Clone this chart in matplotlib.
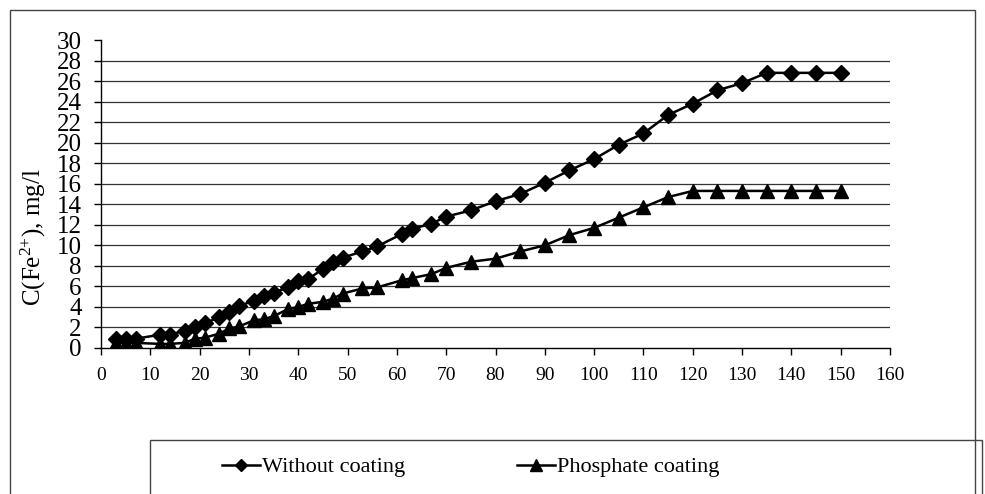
import numpy as np
import matplotlib
matplotlib.use("Agg")
import matplotlib.pyplot as plt
from matplotlib.patches import Rectangle
from matplotlib.lines import Line2D

plt.rcParams['font.family'] = ['Liberation Serif', 'DejaVu Serif']
plt.rcParams['mathtext.default'] = 'regular'

# time points and Fe2+ concentration (mg/l)
time = [3, 5, 7, 12, 14, 17, 19, 21, 24, 26, 28, 31, 33, 35, 38, 40, 42, 45, 47, 49,
        53, 56, 61, 63, 67, 70, 75, 80, 85, 90, 95, 100, 105, 110, 115, 120, 125, 130,
        135, 140, 145, 150]
without_coating = [0.9, 0.9, 0.9, 1.3, 1.3, 1.7, 2.0, 2.4, 3.0, 3.5, 4.1, 4.6, 5.1, 5.4,
                   5.9, 6.5, 6.7, 7.7, 8.4, 8.8, 9.4, 9.9, 11.1, 11.6, 12.1, 12.8, 13.4,
                   14.3, 15.0, 16.1, 17.3, 18.4, 19.8, 20.9, 22.7, 23.8, 25.1, 25.8, 26.8,
                   26.8, 26.8, 26.8]
phosphate_coating = [0.5, 0.5, 0.5, 0.4, 0.4, 0.5, 0.9, 1.0, 1.4, 1.9, 2.1, 2.7, 2.8, 3.1,
                     3.8, 4.0, 4.3, 4.5, 4.8, 5.3, 5.8, 5.9, 6.6, 6.8, 7.2, 7.8, 8.4, 8.7,
                     9.4, 10.0, 11.0, 11.7, 12.7, 13.7, 14.7, 15.3, 15.3, 15.3, 15.3, 15.3,
                     15.3, 15.3]
labels = ['Without coating', 'Phosphate coating']

W, H = 985, 494
fig = plt.figure(figsize=(W / 100, H / 100), dpi=100)
ax = fig.add_axes([101 / W, 1 - 348 / H, (890 - 101) / W, (348 - 40) / H])

ax.plot(time, without_coating, color='black', lw=1.8, marker='D', ms=8.5, zorder=3)
ax.plot(time, phosphate_coating, color='black', lw=1.8, marker='^', ms=10.5, zorder=3)

ax.set_xlim(0, 160)
ax.set_ylim(0, 30)
ax.set_xticks(np.arange(0, 161, 10))
ax.set_yticks(np.arange(0, 31, 2))
for v in range(2, 30, 2):
    ax.axhline(v, color='#333333', lw=0.9, zorder=1)

for s in ['top', 'right']:
    ax.spines[s].set_visible(False)
ax.spines['left'].set_linewidth(1.0)
ax.spines['bottom'].set_linewidth(1.0)
ax.tick_params(axis='y', direction='out', length=5, width=1, labelsize=18, pad=9)
ax.tick_params(axis='x', direction='out', length=5, width=1, labelsize=14, pad=9)

fig.text(33 / W, 1 - 237 / H, r'C(Fe$^{2{+}}$), mg/l', rotation=90, fontsize=18,
         ha='center', va='center')

# outer chart frame and legend box
fig.patches.append(Rectangle((10 / W, -0.1), (975 - 10) / W, 1 - 10 / H + 0.1,
                             transform=fig.transFigure, fill=False, ec='#444444', lw=1))
fig.patches.append(Rectangle((150 / W, -0.1), (982 - 150) / W, 1 - 440 / H + 0.1,
                             transform=fig.transFigure, fill=False, ec='#444444', lw=1))

handles = [Line2D([], [], color='black', lw=1.8, marker='D', ms=6),
           Line2D([], [], color='black', lw=1.8, marker='^', ms=8)]
for h, lab, x0 in zip(handles, labels, [222, 517]):
    fig.legend([h], [lab], loc='center left', bbox_to_anchor=(x0 / W, 1 - 467 / H),
               frameon=False, fontsize=16, handlelength=1.7, handletextpad=0.1,
               borderpad=0, borderaxespad=0)

fig.savefig('out.png', dpi=100)
